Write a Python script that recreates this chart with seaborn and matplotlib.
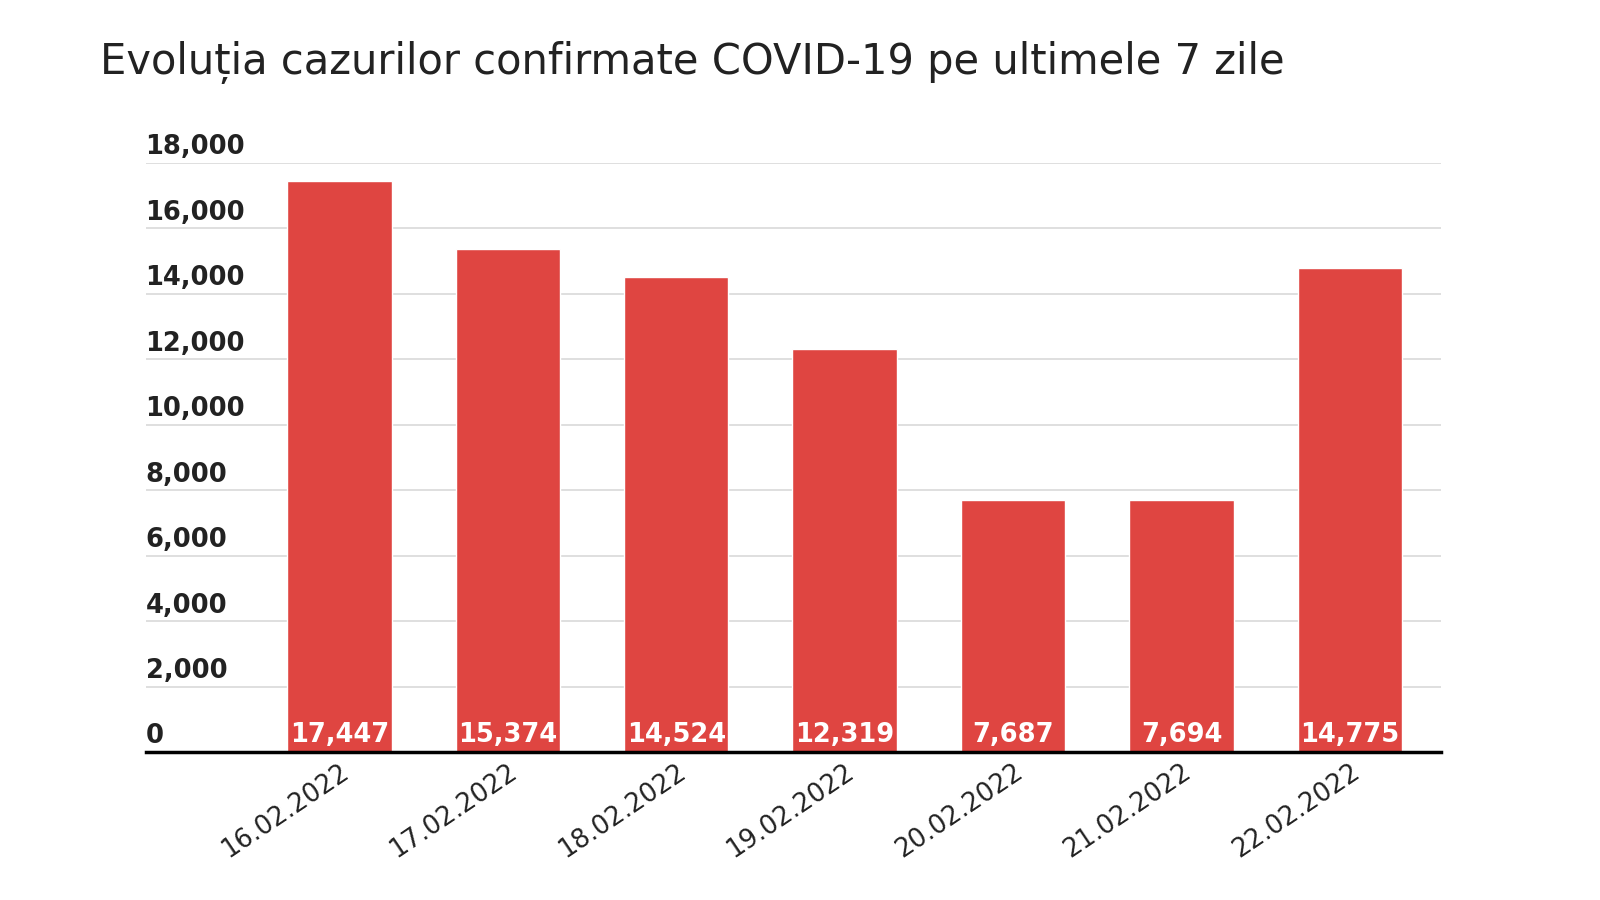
import matplotlib
matplotlib.use('Agg')
import matplotlib.pyplot as plt
import matplotlib.transforms as mtransforms
import pandas as pd
import seaborn as sns

# Date si valori
zile = ['16.02.2022', '17.02.2022', '18.02.2022', '19.02.2022',
        '20.02.2022', '21.02.2022', '22.02.2022']
cazuri = [17447, 15374, 14524, 12319, 7687, 7694, 14775]
y_ticks = [0, 2000, 4000, 6000, 8000, 10000, 12000, 14000, 16000, 18000]

df = pd.DataFrame({'zi': zile, 'cazuri': cazuri})

sns.set_theme(style='white')
plt.rcParams['font.family'] = ['DejaVu Sans']

fig = plt.figure(figsize=(16, 9), dpi=100)
ax = fig.add_axes([0.091, 0.1644, 0.8096, 0.6546])

sns.barplot(data=df, x='zi', y='cazuri', color='#DF4541', width=0.62,
            saturation=1, ax=ax)

ax.set_ylim(0, 18000)
ax.set_xlim(-1.15, 6.54)
ax.set_yticks(y_ticks)
ax.yaxis.grid(True, color='#dcdcdc', linewidth=1.3)
ax.set_axisbelow(True)
ax.set_xlabel('')
ax.set_ylabel('')
ax.tick_params(axis='y', length=0, labelleft=False)
ax.tick_params(axis='x', length=0, pad=5)
for s in ['top', 'right', 'left']:
    ax.spines[s].set_visible(False)
ax.spines['bottom'].set_color('black')
ax.spines['bottom'].set_linewidth(2.5)

# etichete axa y deasupra liniilor de grila
trans = mtransforms.blended_transform_factory(ax.transAxes, ax.transData)
for t in y_ticks:
    ax.text(0.0, t + 80, f'{t:,}', transform=trans, ha='left', va='bottom',
            fontsize=18.5, fontweight='bold', color='#222222')

plt.setp(ax.get_xticklabels(), rotation=34, ha='right',
         rotation_mode='anchor', fontsize=18.5, fontweight='normal',
         color='#222222')

# valori in interiorul barelor
for i, v in enumerate(cazuri):
    ax.text(i, 120, f'{v:,}', ha='center', va='bottom', fontsize=18.5,
            fontweight='bold', color='white')

fig.text(0.0625, 0.93, 'Evoluția cazurilor confirmate COVID-19 pe ultimele 7 zile',
         ha='left', va='center', fontsize=30, color='#222222')

fig.savefig('out.png', dpi=100)
